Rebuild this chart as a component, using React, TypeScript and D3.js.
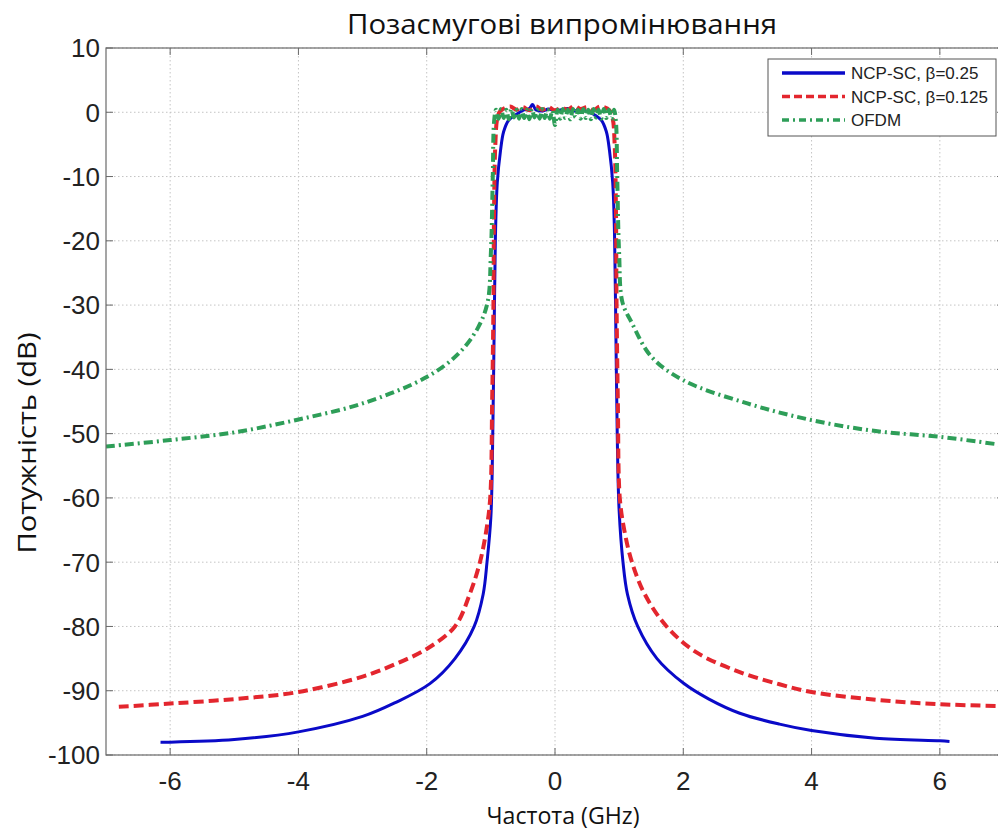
import React, { useEffect, useRef } from "react";
import * as d3 from "d3";

const title = "Позасмугові випромінювання";
const xLabel = "Частота (GHz)";
const yLabel = "Потужність (dB)";
const xTicks = [-6, -4, -2, 0, 2, 4, 6];
const yTicks = [10, 0, -10, -20, -30, -40, -50, -60, -70, -80, -90, -100];
const legendLabels = ["NCP-SC, β=0.25", "NCP-SC, β=0.125", "OFDM"];

const blueX = [-6.15, -6.0, -5.0, -4.0, -3.0, -2.5, -1.95, -1.56, -1.26, -1.12, -1.06, -1.0, -0.97, -0.95, -0.93, -0.9, -0.85, -0.8, -0.72, -0.6, -0.5, -0.4, -0.35, -0.3, -0.2, -0.1, 0.0, 0.1, 0.2, 0.3, 0.4, 0.5, 0.6, 0.72, 0.8, 0.85, 0.9, 0.93, 0.95, 0.97, 1.0, 1.06, 1.13, 1.29, 1.59, 2.0, 2.4, 2.88, 3.5, 4.0, 5.0, 6.0, 6.15];
const blueY = [-98.0, -98.0, -97.6, -96.4, -94.0, -91.9, -88.9, -85.0, -80.0, -75.0, -70.0, -63.0, -50.0, -35.0, -20.0, -11.0, -6.0, -3.0, -1.2, -0.3, 0.3, 0.6, 1.2, 0.4, 0.2, 0.5, 0.3, 0.4, 0.6, 0.2, 0.5, 0.1, -0.3, -1.2, -3.0, -6.0, -11.0, -20.0, -35.0, -50.0, -62.0, -70.0, -75.0, -80.0, -85.0, -88.8, -91.3, -93.5, -95.2, -96.2, -97.4, -97.8, -97.9];

const redX = [-6.8, -6.0, -5.0, -4.0, -3.0, -2.5, -2.0, -1.56, -1.33, -1.17, -1.07, -1.01, -0.98, -0.96, -0.95, -0.93, -0.9, -0.85, -0.7, -0.6, -0.5, -0.4, -0.3, -0.2, -0.1, 0.0, 0.1, 0.2, 0.3, 0.4, 0.5, 0.6, 0.7, 0.85, 0.9, 0.93, 0.95, 0.96, 0.98, 1.01, 1.08, 1.2, 1.4, 1.74, 2.2, 2.88, 3.5, 4.0, 5.0, 6.0, 7.0];
const redY = [-92.5, -92.0, -91.3, -90.2, -87.8, -85.9, -83.5, -80.0, -75.0, -70.0, -65.0, -60.0, -45.0, -30.0, -15.0, -5.0, -1.0, 0.2, 0.9, 0.4, 0.8, 0.3, 0.9, 0.4, 0.8, 0.3, 0.7, 0.4, 1.0, 0.5, 0.8, 0.3, 0.9, 0.3, -1.0, -5.0, -15.0, -30.0, -45.0, -60.0, -65.0, -70.0, -75.0, -80.0, -84.0, -87.1, -89.0, -90.2, -91.4, -92.1, -92.4];

const greenX = [-7.0, -6.0, -5.0, -4.0, -3.0, -2.0, -1.5, -1.2, -1.05, -1.0, -0.97, -0.95, -0.92, -0.88, -0.84, -0.8, -0.76, -0.72, -0.68, -0.64, -0.6, -0.56, -0.52, -0.48, -0.44, -0.4, -0.36, -0.32, -0.28, -0.24, -0.2, -0.16, -0.12, -0.08, -0.04, 0.0, 0.04, 0.08, 0.12, 0.16, 0.2, 0.24, 0.28, 0.32, 0.36, 0.4, 0.44, 0.48, 0.52, 0.56, 0.6, 0.64, 0.68, 0.72, 0.76, 0.8, 0.84, 0.88, 0.92, 0.95, 0.97, 1.0, 1.05, 1.2, 1.5, 2.0, 3.0, 4.0, 5.0, 6.0, 7.0];
const greenY = [-52.0, -51.0, -49.8, -47.8, -45.3, -41.2, -37.5, -33.5, -29.5, -22.0, -10.0, -1.5, 0.4, -1.0, 0.5, -0.9, 0.4, -1.1, 0.5, -0.8, 0.4, -1.0, 0.5, -0.9, 0.4, -1.1, 0.5, -0.8, 0.4, -1.0, 0.5, -0.9, 0.4, -1.0, 0.3, -2.0, 0.4, -1.0, 0.5, -0.9, 0.4, -1.1, 0.5, -0.8, 0.4, -1.0, 0.5, -0.9, 0.4, -1.1, 0.5, -0.8, 0.4, -1.0, 0.5, -0.9, 0.4, -1.0, 0.4, -1.5, -10.0, -22.0, -29.5, -32.8, -38.0, -41.7, -45.3, -47.9, -49.6, -50.5, -51.8];

const W = 998;
const H = 836;
const M = { left: 106, top: 48, right: 1004, bottom: 755 };

const COLORS = ["#0a0ac8", "#e3262e", "#2e9e58"];

export default function App() {
  const ref = useRef<SVGSVGElement | null>(null);

  useEffect(() => {
    const svg = d3.select(ref.current);
    svg.selectAll("*").remove();

    const x = d3.scaleLinear().domain([-7, 7]).range([M.left, M.right]);
    const y = d3.scaleLinear().domain([-100, 10]).range([M.bottom, M.top]);

    svg.append("rect").attr("width", W).attr("height", H).attr("fill", "#fff");

    const defs = svg.append("defs");
    defs.append("clipPath").attr("id", "clip").append("rect")
      .attr("x", M.left).attr("y", M.top)
      .attr("width", M.right - M.left).attr("height", M.bottom - M.top);

    const grid = svg.append("g");
    xTicks.forEach((t) => {
      grid.append("line").attr("x1", x(t)).attr("x2", x(t)).attr("y1", M.top).attr("y2", M.bottom)
        .attr("stroke", "#c4c4c4").attr("stroke-width", 1).attr("stroke-dasharray", "1.5,2.5");
    });
    yTicks.forEach((t) => {
      grid.append("line").attr("x1", M.left).attr("x2", M.right).attr("y1", y(t)).attr("y2", y(t))
        .attr("stroke", "#c4c4c4").attr("stroke-width", 1).attr("stroke-dasharray", "1.5,2.5");
    });

    const axisColor = "#6a6a6a";
    const tl = 7;
    const ax = svg.append("g");
    xTicks.forEach((t) => {
      ax.append("line").attr("x1", x(t)).attr("x2", x(t)).attr("y1", M.bottom).attr("y2", M.bottom - tl).attr("stroke", axisColor);
      ax.append("line").attr("x1", x(t)).attr("x2", x(t)).attr("y1", M.top).attr("y2", M.top + tl).attr("stroke", axisColor);
      ax.append("text").attr("x", x(t)).attr("y", M.bottom + 35).attr("text-anchor", "middle")
        .attr("font-family", "Liberation Sans, Arial, sans-serif").attr("font-size", 26).attr("fill", "#222")
        .text(String(t));
    });
    yTicks.forEach((t) => {
      ax.append("line").attr("x1", M.left).attr("x2", M.left + tl).attr("y1", y(t)).attr("y2", y(t)).attr("stroke", axisColor);
      ax.append("line").attr("x1", M.right).attr("x2", M.right - tl).attr("y1", y(t)).attr("y2", y(t)).attr("stroke", axisColor);
      ax.append("text").attr("x", M.left - 6).attr("y", y(t)).attr("dy", "0.36em").attr("text-anchor", "end")
        .attr("font-family", "Liberation Sans, Arial, sans-serif").attr("font-size", 26).attr("fill", "#222")
        .text(String(t));
    });

    const plot = svg.append("g").attr("clip-path", "url(#clip)");
    const line = d3.line<[number, number]>().x((d) => x(d[0])).y((d) => y(d[1])).curve(d3.curveCatmullRom.alpha(0.5));

    const series: { xs: number[]; ys: number[]; color: string; width: number; dash: string | null }[] = [
      { xs: blueX, ys: blueY, color: COLORS[0], width: 3, dash: null },
      { xs: redX, ys: redY, color: COLORS[1], width: 4, dash: "10,5" },
      { xs: greenX, ys: greenY, color: COLORS[2], width: 4, dash: "9,4,2,4" },
    ];
    series.forEach((s) => {
      const pts: [number, number][] = s.xs.map((v, i) => [v, s.ys[i]]);
      const p = plot.append("path").attr("d", line(pts)).attr("fill", "none")
        .attr("stroke", s.color).attr("stroke-width", s.width).attr("stroke-linejoin", "round");
      if (s.dash) p.attr("stroke-dasharray", s.dash);
    });

    svg.append("rect").attr("x", M.left).attr("y", M.top).attr("width", M.right - M.left).attr("height", M.bottom - M.top)
      .attr("fill", "none").attr("stroke", axisColor).attr("stroke-width", 1.2);

    // legend
    const lg = svg.append("g");
    lg.append("rect").attr("x", 768).attr("y", 59).attr("width", 228).attr("height", 77)
      .attr("fill", "#fff").attr("stroke", "#555").attr("stroke-width", 1);
    legendLabels.forEach((lab, i) => {
      const yy = 73 + i * 23.5;
      const s = series[i];
      const l = lg.append("line").attr("x1", 782).attr("x2", 845).attr("y1", yy).attr("y2", yy)
        .attr("stroke", s.color).attr("stroke-width", 3.5);
      if (i === 1) l.attr("stroke-dasharray", "8,4");
      if (i === 2) l.attr("stroke-dasharray", "7,4,2,4");
      lg.append("text").attr("x", 851).attr("y", yy).attr("dy", "0.36em")
        .attr("font-family", "Liberation Sans, Arial, sans-serif").attr("font-size", 17).attr("fill", "#222")
        .text(lab);
    });

    svg.append("text").attr("x", 562).attr("y", 34).attr("text-anchor", "middle")
      .attr("font-family", "Open Sans, sans-serif").attr("font-size", 27).attr("font-weight", 500).attr("fill", "#111")
      .attr("textLength", 430).attr("lengthAdjust", "spacingAndGlyphs")
      .text(title);
    svg.append("text").attr("x", 563).attr("y", 824).attr("text-anchor", "middle")
      .attr("font-family", "Open Sans, sans-serif").attr("font-size", 23).attr("fill", "#111")
      .attr("textLength", 153).attr("lengthAdjust", "spacingAndGlyphs")
      .text(xLabel);
    svg.append("text").attr("transform", `translate(36,443) rotate(-90)`).attr("text-anchor", "middle")
      .attr("font-family", "Open Sans, sans-serif").attr("font-size", 25).attr("fill", "#111")
      .attr("textLength", 221).attr("lengthAdjust", "spacingAndGlyphs")
      .text(yLabel);
  }, []);

  return (
    <svg ref={ref} width={W} height={H} style={{ position: "absolute", left: 0, top: 0, display: "block" }} />
  );
}
